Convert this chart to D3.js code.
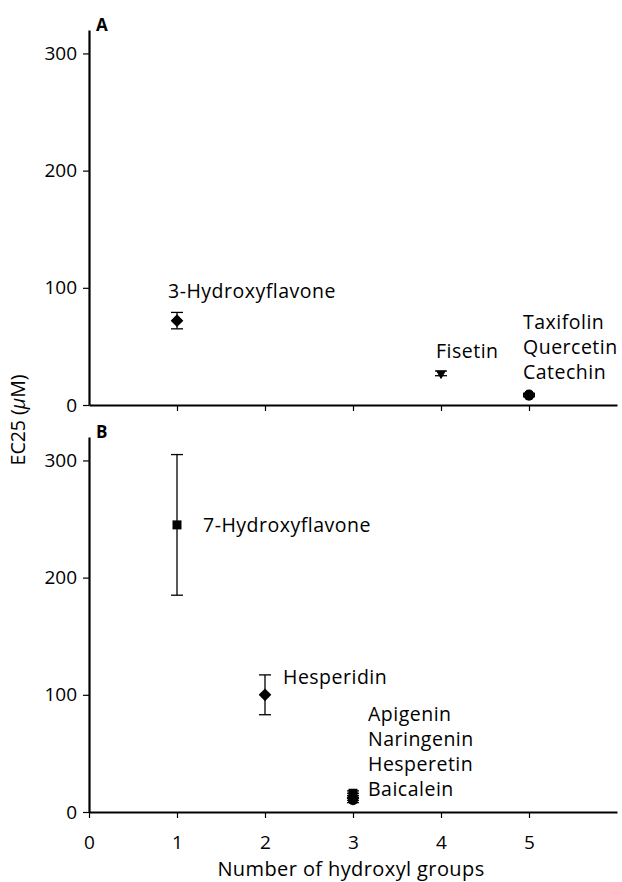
<!DOCTYPE html>
<html lang="en">
<head>
  <meta charset="UTF-8">
  <title>EC25 vs hydroxyl groups</title>
  <script src="https://d3js.org/d3.v7.min.js"></script>
  <style>
    body { margin: 0; background: #fff; font-family: "Open Sans", Arial, sans-serif; }
  </style>
</head>
<body>
  <div id="chart"></div>
  <script>
    // Panel A: compound, hydroxyl groups, EC25 mean, error, marker
    const namesA = ["3-Hydroxyflavone", "Fisetin", "Taxifolin", "Quercetin", "Catechin"];
    const hydroxylA = [1, 4, 5, 5, 5];
    const ec25A = [72, 27, 9, 8.5, 8];
    const errA = [7, 2, 1, 1, 1];
    const shapeA = ["diamond", "triangle", "circle", "circle", "circle"];

    // Panel B
    const namesB = ["7-Hydroxyflavone", "Hesperidin", "Apigenin", "Naringenin", "Hesperetin", "Baicalein"];
    const hydroxylB = [1, 2, 3, 3, 3, 3];
    const ec25B = [245, 100, 16, 14, 12, 10];
    const errB = [60, 17, 2, 2, 2, 2];
    const shapeB = ["square", "diamond", "square", "triangle", "diamond", "circle"];

    // label groups: which compounds share a stacked label block
    const labelsA = [["3-Hydroxyflavone"], ["Fisetin"], ["Taxifolin", "Quercetin", "Catechin"]];
    const labelsB = [["7-Hydroxyflavone"], ["Hesperidin"], ["Apigenin", "Naringenin", "Hesperetin", "Baicalein"]];

    const yTicks = [0, 100, 200, 300];
    const xTicks = [0, 1, 2, 3, 4, 5];

    const width = 622, height = 882;
    const left = 89, right = 617;

    const svg = d3.select("#chart").append("svg")
        .attr("width", width)
        .attr("height", height);

    const x = d3.scaleLinear().domain([0, 6]).range([left, right]);
    const yA = d3.scaleLinear().domain([0, 320]).range([405, 30]);
    const yB = d3.scaleLinear().domain([0, 320]).range([812, 437]);

    const symbolTypes = {
      square: { type: d3.symbolSquare, size: 81, rot: 0 },
      diamond: { type: d3.symbolSquare, size: 80, rot: 45 },
      circle: { type: d3.symbolCircle, size: 80, rot: 0 },
      triangle: { type: d3.symbolTriangle, size: 45, rot: 180 }
    };

    function drawPanel(y, names, xs, vals, errs, shapes, labelGroups, offsets, letter, showXLabels) {
      const g = svg.append("g");

      // y axis
      const ya = g.append("g")
          .attr("transform", `translate(${left},0)`)
          .call(d3.axisLeft(y).tickValues(yTicks).tickSize(6).tickSizeOuter(0).tickPadding(6));

      // x axis
      const xa = g.append("g")
          .attr("transform", `translate(0,${y(0)})`)
          .call(d3.axisBottom(x).tickValues(showXLabels ? xTicks : xTicks.slice(1))
            .tickSize(6).tickSizeOuter(0).tickPadding(18)
            .tickFormat(showXLabels ? d3.format("d") : () => ""));

      [ya, xa].forEach(a => {
        a.select(".domain").attr("stroke", "#000").attr("stroke-width", 2.2);
        a.selectAll(".tick line").attr("stroke", "#000").attr("stroke-width", 1.2);
        a.selectAll(".tick text")
          .attr("fill", "#000")
          .style("font-family", "'Open Sans', Arial, sans-serif")
          .style("font-size", "19px");
      });

      // error bars
      const data = names.map((n, i) => ({ name: n, x: xs[i], v: vals[i], e: errs[i], s: shapes[i] }));
      const eb = g.append("g").attr("stroke", "#000").attr("stroke-width", 1.3);
      data.forEach(d => {
        const cx = x(d.x);
        eb.append("line").attr("x1", cx).attr("x2", cx).attr("y1", y(d.v - d.e)).attr("y2", y(d.v + d.e));
        [d.v - d.e, d.v + d.e].forEach(v =>
          eb.append("line").attr("x1", cx - 6).attr("x2", cx + 6).attr("y1", y(v)).attr("y2", y(v)));
      });

      // markers
      g.append("g").selectAll("path")
        .data(data)
        .join("path")
          .attr("d", d => d3.symbol().type(symbolTypes[d.s].type).size(symbolTypes[d.s].size)())
          .attr("transform", d => `translate(${x(d.x)},${y(d.v)}) rotate(${symbolTypes[d.s].rot})`)
          .attr("fill", "#000");

      // labels (one text per line, stacked)
      labelGroups.forEach((grp, k) => {
        const first = data.find(d => d.name === grp[0]);
        grp.forEach((name, j) => {
          g.append("text")
            .attr("x", x(first.x) + offsets[k][0])
            .attr("y", y(first.v) + offsets[k][1] + j * offsets[k][2])
            .style("font-size", "19.5px")
            .style("letter-spacing", "0.5px")
            .attr("fill", "#000")
            .text(name);
        });
      });

      // panel letter
      g.append("text")
          .attr("x", left + 7)
          .attr("y", y(320) + 1)
          .style("font-weight", "bold")
          .style("font-size", "17px")
          .text(letter);
    }

    drawPanel(yA, namesA, hydroxylA, ec25A, errA, shapeA, labelsA,
      [[-9, -23, 0], [-5, -15, 0], [-6, -65, 25]], "A", false);
    drawPanel(yB, namesB, hydroxylB, ec25B, errB, shapeB, labelsB,
      [[26, 7, 0], [18, -11, 0], [15, -72, 25]], "B", true);

    // axis titles
    svg.append("text")
        .attr("x", (left + right) / 2 - 2)
        .attr("y", 876)
        .attr("text-anchor", "middle")
        .style("font-size", "20px")
        .style("letter-spacing", "0.4px")
        .text("Number of hydroxyl groups");

    const yl = svg.append("text")
        .attr("transform", "translate(25,420) rotate(-90)")
        .attr("text-anchor", "middle")
        .style("font-size", "19.5px");
    yl.append("tspan").text("EC25 (");
    yl.append("tspan").style("font-style", "italic").text("μ");
    yl.append("tspan").text("M)");
  </script>
</body>
</html>
